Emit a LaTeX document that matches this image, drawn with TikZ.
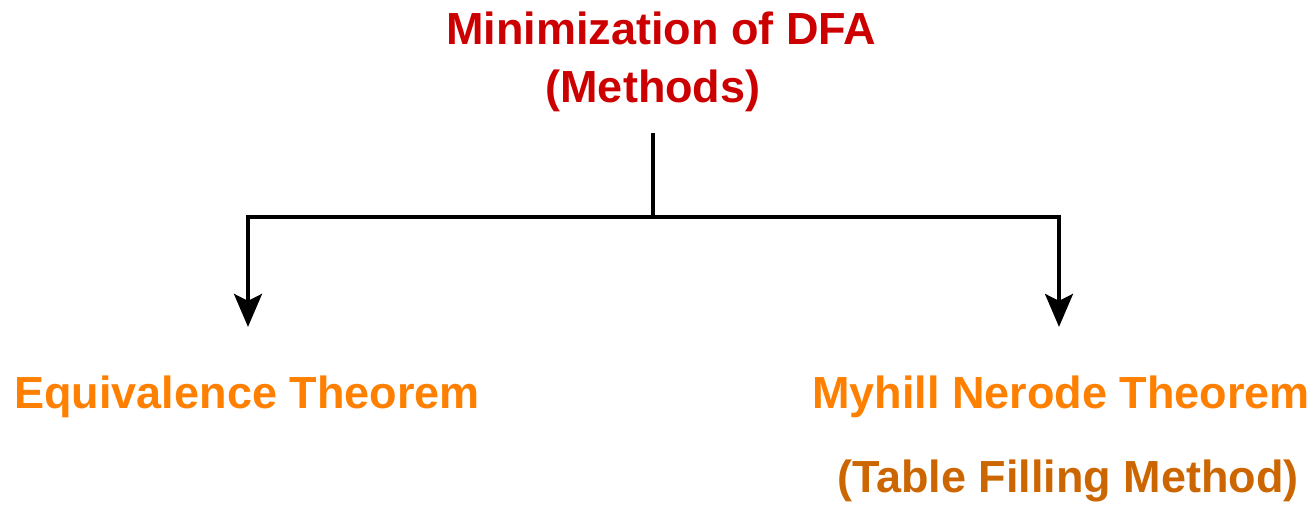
\documentclass[tikz,border=0pt]{standalone}
\usepackage{fontspec}
\setmainfont{Liberation Sans}
\usetikzlibrary{arrows.meta}
\definecolor{titlered}{HTML}{CC0000}
\definecolor{methorange}{HTML}{FF8000}
\definecolor{methbrown}{HTML}{CC6600}
\tikzset{
  lbl/.style={anchor=base, inner sep=0pt, align=center,
    font=\bfseries\fontsize{45bp}{58bp}\selectfont},
  conn/.style={line width=3.5bp, draw=black},
  arr/.style={conn, -{Stealth[length=33bp, width=28bp, inset=7bp]}},
}
\begin{document}
\begin{tikzpicture}[x=1bp, y=-1bp]
\useasboundingbox (0,0) rectangle (1316,505);
\node[lbl, text=titlered, outer ysep=20.5bp] (title) at (661,103)
  {Minimization of DFA\\(Methods)\hspace*{16bp}};
\node[lbl, text=methorange, outer ysep=48.5bp] (eq) at (247,408)
  {Equivalence Theorem};
\node[lbl, outer ysep=48.5bp, font=\bfseries\fontsize{45bp}{84bp}\selectfont] (mn) at (1061,492)
  {\textcolor{methorange}{Myhill Nerode Theorem}\\\hspace*{14bp}\textcolor{methbrown}{(Table Filling Method)}};
\coordinate (j) at (653,217);
\draw[conn] (title.south -| j) -- (j);
\draw[arr] (j) -| (eq.north -| 248,0);
\draw[arr] (j) -| (mn.north -| 1059,0);
\end{tikzpicture}
\end{document}
